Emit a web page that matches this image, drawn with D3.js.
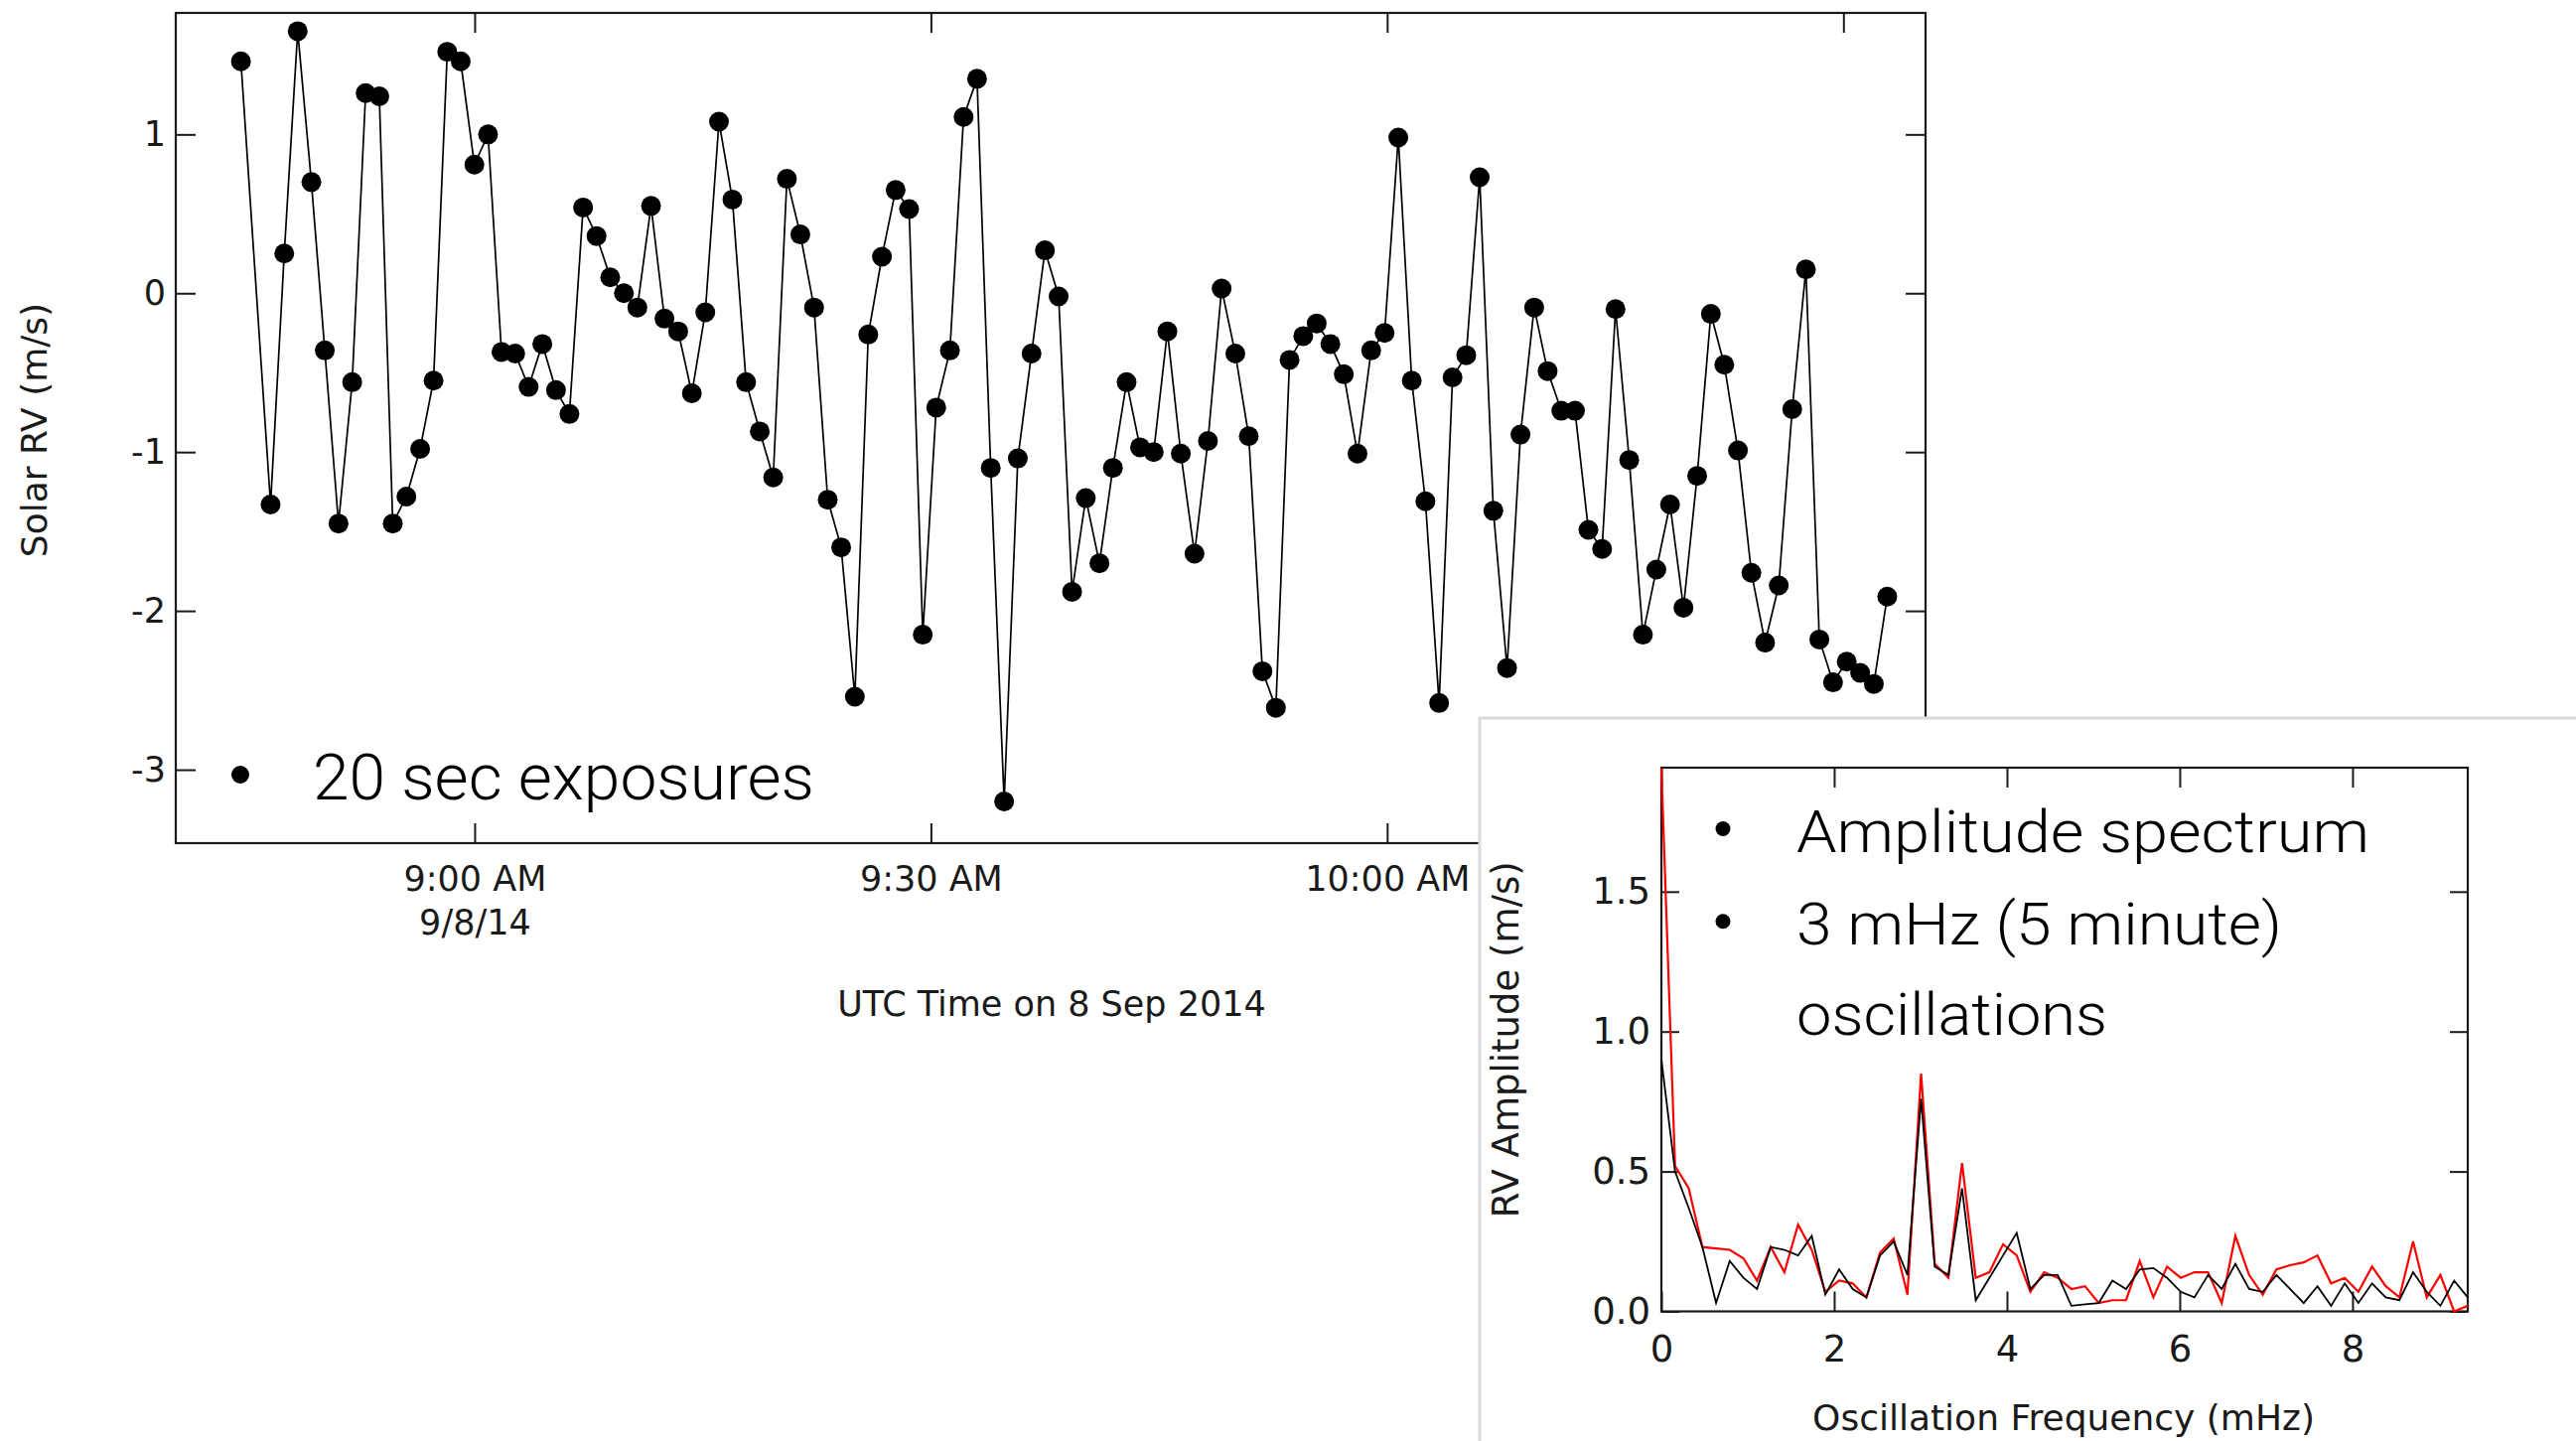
<!DOCTYPE html>
<html>
<head>
<meta charset="utf-8">
<script src="https://cdn.jsdelivr.net/npm/d3@7"></script>
<style>
  html, body { margin: 0; padding: 0; background: #ffffff; }
  svg { display: block; }
</style>
</head>
<body>
<svg id="chart" width="2594" height="1451"></svg>
<script>
// ---- Solar RV time series (20 s exposures, 8 Sep 2014) ----
const exposureStart = "2014-09-08T08:44:38Z";
// seconds after the first exposure
const exposureSeconds = [
  0, 117, 171, 224, 278, 331, 385, 439, 492, 546, 599, 653, 707, 760, 814, 867, 921, 975, 1028, 1082,
  1135, 1189, 1243, 1296, 1350, 1403, 1457, 1511, 1564, 1618, 1671, 1725, 1779, 1832, 1886, 1939, 1993, 2047, 2100, 2154,
  2207, 2261, 2315, 2368, 2422, 2475, 2529, 2583, 2636, 2690, 2743, 2797, 2851, 2904, 2958, 3011, 3065, 3119, 3172, 3226,
  3279, 3333, 3387, 3440, 3494, 3547, 3601, 3655, 3708, 3762, 3815, 3869, 3923, 3976, 4030, 4083, 4137, 4191, 4244, 4298,
  4351, 4405, 4459, 4512, 4566, 4619, 4673, 4727, 4780, 4834, 4887, 4941, 4995, 5048, 5102, 5155, 5209, 5263, 5316, 5370,
  5423, 5477, 5531, 5584, 5638, 5691, 5745, 5799, 5852, 5906, 5959, 6013, 6067, 6120, 6174, 6227, 6281, 6335, 6388, 6442,
  6495
];
// solar radial velocity, m/s
const solarRV = [
  1.46, -1.33, 0.25, 1.65, 0.70, -0.36, -1.45, -0.56, 1.26, 1.24, -1.45, -1.28, -0.98, -0.55, 1.52, 1.46, 0.81, 1.00, -0.37, -0.38,
  -0.59, -0.32, -0.61, -0.76, 0.54, 0.36, 0.10, 0.00, -0.09, 0.55, -0.16, -0.24, -0.63, -0.12, 1.08, 0.59, -0.56, -0.87, -1.16, 0.72,
  0.37, -0.09, -1.30, -1.60, -2.54, -0.26, 0.23, 0.65, 0.53, -2.15, -0.72, -0.36, 1.11, 1.35, -1.10, -3.20, -1.04, -0.38, 0.27, -0.02,
  -1.88, -1.29, -1.70, -1.10, -0.56, -0.97, -1.00, -0.24, -1.01, -1.64, -0.93, 0.03, -0.38, -0.90, -2.38, -2.61, -0.42, -0.27, -0.19, -0.32,
  -0.51, -1.01, -0.36, -0.25, 0.98, -0.55, -1.31, -2.58, -0.53, -0.39, 0.73, -1.37, -2.36, -0.89, -0.09, -0.49, -0.74, -0.74, -1.49, -1.61,
  -0.10, -1.05, -2.15, -1.74, -1.33, -1.98, -1.15, -0.13, -0.45, -0.99, -1.76, -2.20, -1.84, -0.73, 0.15, -2.18, -2.45, -2.32, -2.39, -2.46,
  -1.91
];
const rvTicks = [-3, -2, -1, 0, 1];
const timeTicks = ["2014-09-08T09:00:00Z", "2014-09-08T09:30:00Z", "2014-09-08T10:00:00Z", "2014-09-08T10:30:00Z"];
// the 10:30 tick sits behind the spectrum panel, so it carries no label
const timeTickLabels = [["9:00 AM", "9/8/14"], ["9:30 AM"], ["10:00 AM"], []];

// ---- Amplitude spectrum ----
const freqMHz = [
  0.000, 0.158, 0.316, 0.475, 0.633, 0.791, 0.949, 1.107, 1.266, 1.424,
  1.582, 1.740, 1.898, 2.057, 2.215, 2.373, 2.531, 2.689, 2.848, 3.006,
  3.164, 3.322, 3.480, 3.639, 3.797, 3.955, 4.113, 4.271, 4.430, 4.588,
  4.746, 4.904, 5.062, 5.221, 5.379, 5.537, 5.695, 5.853, 6.012, 6.170,
  6.328, 6.486, 6.644, 6.803, 6.961, 7.119, 7.277, 7.435, 7.594, 7.752,
  7.910, 8.068, 8.226, 8.385, 8.543, 8.701, 8.859, 9.017, 9.176, 9.334
];
const ampBlack = [
  0.90, 0.50, 0.37, 0.23, 0.03, 0.18, 0.12, 0.08, 0.23, 0.22,
  0.20, 0.27, 0.06, 0.15, 0.08, 0.05, 0.20, 0.25, 0.13, 0.76,
  0.16, 0.13, 0.44, 0.04, 0.12, 0.20, 0.28, 0.08, 0.13, 0.13,
  0.02, 0.025, 0.03, 0.11, 0.08, 0.15, 0.155, 0.12, 0.07, 0.05,
  0.13, 0.08, 0.17, 0.08, 0.07, 0.13, 0.08, 0.03, 0.09, 0.02,
  0.10, 0.03, 0.10, 0.05, 0.04, 0.14, 0.07, 0.02, 0.11, 0.05
];
const ampRed = [
  1.94, 0.52, 0.44, 0.23, 0.225, 0.22, 0.19, 0.11, 0.23, 0.14,
  0.31, 0.22, 0.07, 0.11, 0.10, 0.05, 0.21, 0.26, 0.06, 0.85,
  0.17, 0.12, 0.53, 0.12, 0.14, 0.24, 0.20, 0.07, 0.14, 0.12,
  0.08, 0.09, 0.03, 0.04, 0.04, 0.18, 0.05, 0.16, 0.12, 0.14,
  0.14, 0.03, 0.27, 0.13, 0.06, 0.15, 0.165, 0.175, 0.20, 0.10,
  0.12, 0.07, 0.16, 0.09, 0.05, 0.25, 0.05, 0.13, 0.00, 0.02
];
const ampTicks = [0, 0.5, 1.0, 1.5];
const ampTickLabels = ["0.0", "0.5", "1.0", "1.5"];
const freqTicks = [0, 2, 4, 6, 8];

// ---- Text ----
const mainYTitle = "Solar RV (m/s)";
const mainXTitle = "UTC Time on 8 Sep 2014";
const mainNote = "20 sec exposures";
const insetYTitle = "RV Amplitude (m/s)";
const insetXTitle = "Oscillation Frequency (mHz)";
const insetNotes = [
  { bullet: true, text: "Amplitude spectrum" },
  { bullet: true, text: "3 mHz (5 minute)" },
  { bullet: false, text: "oscillations" }
];

// ================= drawing =================
const svg = d3.select("#chart");
const AXIS_FONT = "'DejaVu Sans', Verdana, sans-serif";
const NOTE_FONT = "Roboto, 'Open Sans', Lato, sans-serif";
const INK = "#1a1a1a";

function styleAxis(g, fontSize) {
  g.select(".domain").remove();
  g.selectAll(".tick line").attr("stroke", INK).attr("stroke-width", 2);
  g.selectAll(".tick text")
    .attr("font-family", AXIS_FONT)
    .attr("font-size", fontSize)
    .attr("fill", INK);
  g.attr("font-family", null).attr("font-size", null);
}

// ---------- main time-series panel ----------
const M = { left: 177, right: 1939, top: 13, bottom: 849 };
const x = d3.scaleUtc()
  .domain([new Date("2014-09-08T08:40:21Z"), new Date("2014-09-08T10:35:24Z")])
  .range([M.left, M.right]);
const y = d3.scaleLinear().domain([-3.4625, 1.765]).range([M.bottom, M.top]);

const t0 = new Date(exposureStart).getTime();
const series = exposureSeconds.map((s, i) => ({ t: new Date(t0 + s * 1000), v: solarRV[i] }));
const tickDates = timeTicks.map(d => new Date(d));

const gMain = svg.append("g").attr("class", "main-panel");

gMain.append("g").attr("transform", `translate(${M.left},0)`)
  .call(d3.axisLeft(y).tickValues(rvTicks).tickSize(-20).tickSizeOuter(0).tickPadding(10).tickFormat(d => String(d)))
  .call(g => styleAxis(g, 35));
gMain.append("g").attr("transform", `translate(${M.right},0)`)
  .call(d3.axisRight(y).tickValues(rvTicks).tickSize(-20).tickSizeOuter(0).tickFormat(() => ""))
  .call(g => styleAxis(g, 35));
gMain.append("g").attr("transform", `translate(0,${M.top})`)
  .call(d3.axisTop(x).tickValues(tickDates).tickSize(-20).tickSizeOuter(0).tickFormat(() => ""))
  .call(g => styleAxis(g, 35));
const xAxisG = gMain.append("g").attr("transform", `translate(0,${M.bottom})`)
  .call(d3.axisBottom(x).tickValues(tickDates).tickSize(-20).tickSizeOuter(0).tickPadding(24).tickFormat(() => ""))
  .call(g => styleAxis(g, 35));
xAxisG.selectAll(".tick text").each(function(d, i) {
  const txt = d3.select(this).attr("dy", null).attr("y", 48);
  timeTickLabels[i].forEach((line, j) => {
    txt.append("tspan").attr("x", 0).attr("dy", j === 0 ? 0 : 44).text(line);
  });
});
xAxisG.selectAll(".tick text").filter((d, i) => timeTickLabels[i].length === 0).remove();

gMain.append("rect")
  .attr("x", M.left).attr("y", M.top)
  .attr("width", M.right - M.left).attr("height", M.bottom - M.top)
  .attr("fill", "none").attr("stroke", INK).attr("stroke-width", 2.2);

const line = d3.line().x(d => x(d.t)).y(d => y(d.v));
gMain.append("path").datum(series)
  .attr("d", line).attr("fill", "none").attr("stroke", "#000").attr("stroke-width", 1.7);
gMain.append("g").selectAll("circle").data(series).join("circle")
  .attr("cx", d => x(d.t)).attr("cy", d => y(d.v)).attr("r", 10).attr("fill", "#000");

gMain.append("text")
  .attr("transform", `translate(47,433) rotate(-90)`)
  .attr("text-anchor", "middle").attr("font-family", AXIS_FONT).attr("font-size", 36)
  .attr("fill", INK).text(mainYTitle);
gMain.append("text")
  .attr("x", 1059).attr("y", 1023)
  .attr("text-anchor", "middle").attr("font-family", AXIS_FONT).attr("font-size", 35)
  .attr("fill", INK).text(mainXTitle);

gMain.append("circle").attr("cx", 242).attr("cy", 780).attr("r", 9).attr("fill", "#000");
gMain.append("text")
  .attr("x", 315).attr("y", 805)
  .attr("font-family", NOTE_FONT).attr("font-weight", 300).attr("font-size", 64)
  .attr("textLength", 505).attr("lengthAdjust", "spacingAndGlyphs")
  .attr("fill", "#000").text(mainNote);

// ---------- inset spectrum panel ----------
const gInset = svg.append("g").attr("class", "inset-panel");
gInset.append("rect")
  .attr("x", 1490).attr("y", 723).attr("width", 1106).attr("height", 740)
  .attr("fill", "#ffffff").attr("stroke", "#dadada").attr("stroke-width", 3);

const I = { left: 1673, right: 2485, top: 773, bottom: 1320.5 };
const fx = d3.scaleLinear().domain([0, 9.334]).range([I.left, I.right]);
const fy = d3.scaleLinear().domain([0, 1.943]).range([I.bottom, I.top]);

gInset.append("g").attr("transform", `translate(${I.left},0)`)
  .call(d3.axisLeft(fy).tickValues(ampTicks).tickSize(-18).tickSizeOuter(0).tickPadding(11)
    .tickFormat((d, i) => ampTickLabels[i]))
  .call(g => styleAxis(g, 37));
gInset.append("g").attr("transform", `translate(${I.right},0)`)
  .call(d3.axisRight(fy).tickValues(ampTicks).tickSize(-18).tickSizeOuter(0).tickFormat(() => ""))
  .call(g => styleAxis(g, 37));
gInset.append("g").attr("transform", `translate(0,${I.top})`)
  .call(d3.axisTop(fx).tickValues(freqTicks).tickSize(-20).tickSizeOuter(0).tickFormat(() => ""))
  .call(g => styleAxis(g, 37));
gInset.append("g").attr("transform", `translate(0,${I.bottom})`)
  .call(d3.axisBottom(fx).tickValues(freqTicks).tickSize(-20).tickSizeOuter(0).tickPadding(24).tickFormat(d => String(d)))
  .call(g => styleAxis(g, 37));

gInset.append("rect")
  .attr("x", I.left).attr("y", I.top)
  .attr("width", I.right - I.left).attr("height", I.bottom - I.top)
  .attr("fill", "none").attr("stroke", INK).attr("stroke-width", 2.2);

const specRed = freqMHz.map((f, i) => ({ f, a: ampRed[i] }));
const specBlack = freqMHz.map((f, i) => ({ f, a: ampBlack[i] }));
const specLine = d3.line().x(d => fx(d.f)).y(d => fy(d.a));
gInset.append("path").datum(specRed)
  .attr("d", specLine).attr("fill", "none").attr("stroke", "#ff0000").attr("stroke-width", 2.2);
gInset.append("path").datum(specBlack)
  .attr("d", specLine).attr("fill", "none").attr("stroke", "#000").attr("stroke-width", 1.8);

gInset.append("text")
  .attr("transform", `translate(1529,${(I.top + I.bottom) / 2}) rotate(-90)`)
  .attr("text-anchor", "middle").attr("font-family", AXIS_FONT).attr("font-size", 37)
  .attr("fill", INK).text(insetYTitle);
gInset.append("text")
  .attr("x", 2078).attr("y", 1440)
  .attr("text-anchor", "middle").attr("font-family", AXIS_FONT).attr("font-size", 36)
  .attr("fill", INK).text(insetXTitle);

const noteBaselines = [857.5, 950.8, 1041.7];
const noteLengths = [577, 489, 313];
insetNotes.forEach((n, i) => {
  if (n.bullet) {
    gInset.append("circle").attr("cx", 1735).attr("cy", noteBaselines[i] - 23).attr("r", 7.5).attr("fill", "#000");
  }
  gInset.append("text")
    .attr("x", 1809).attr("y", noteBaselines[i])
    .attr("font-family", NOTE_FONT).attr("font-weight", 300).attr("font-size", 59)
    .attr("textLength", noteLengths[i]).attr("lengthAdjust", "spacingAndGlyphs")
    .attr("fill", "#000").text(n.text);
});
</script>
</body>
</html>
